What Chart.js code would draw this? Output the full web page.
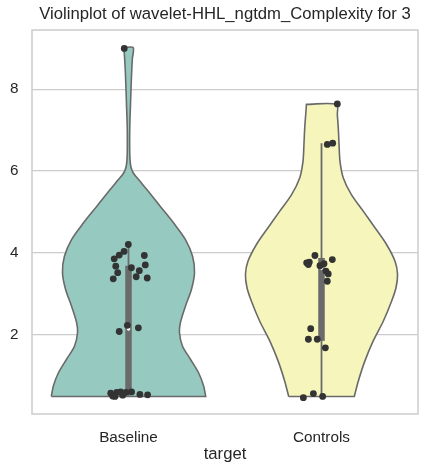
<!DOCTYPE html>
<html>
<head>
<meta charset="utf-8">
<script src="https://cdn.jsdelivr.net/npm/chart.js@4.4.1/dist/chart.umd.min.js"></script>
<style>
  html, body { margin: 0; padding: 0; background: #fff; }
  #wrap { width: 429px; height: 473px; }
</style>
</head>
<body>
<div id="wrap"><canvas id="violin"></canvas></div>
<script>
const categories = ['Baseline', 'Controls'];
const yTicks = [2, 4, 6, 8];

// violin outline: levels on the value axis and half width there (category units)
const baselineLevels = [0.48, 0.74, 1.06, 1.39, 1.71, 2.04, 2.29, 2.69, 3.10, 3.51, 3.91, 4.32, 4.73, 5.13, 5.54, 5.79, 5.95, 6.11, 6.35, 6.76, 7.17, 7.58, 8.00, 8.39, 8.75, 9.02];
const baselineWidths = [0.400, 0.389, 0.363, 0.321, 0.280, 0.264, 0.269, 0.295, 0.326, 0.342, 0.332, 0.295, 0.233, 0.165, 0.096, 0.052, 0.025, 0.012, 0.007, 0.006, 0.007, 0.010, 0.013, 0.016, 0.020, 0.024];
const controlsLevels = [0.48, 0.86, 1.35, 1.84, 2.32, 2.81, 3.14, 3.47, 3.79, 4.20, 4.61, 5.01, 5.42, 5.83, 6.23, 6.64, 7.05, 7.37, 7.63];
const controlsWidths = [0.170, 0.191, 0.225, 0.268, 0.320, 0.363, 0.386, 0.394, 0.381, 0.337, 0.277, 0.217, 0.155, 0.113, 0.096, 0.091, 0.087, 0.082, 0.078];

// inner box: whisker low, q1, median, q3, whisker high
const baselineBox = [0.48, 0.55, 2.13, 3.68, 4.20];
const controlsBox = [0.48, 1.84, 3.62, 3.87, 6.68];

// strip points: values and their jitter off the category centre
const baselineValues = [9.00, 4.20, 4.03, 3.94, 3.85, 3.93, 3.67, 3.70, 3.51, 3.63, 3.56, 3.36, 3.41, 3.38, 2.22, 2.07, 2.16, 0.56, 0.49, 0.58, 0.59, 0.51, 0.58, 0.59, 0.53, 0.52, 0.48];
const baselineJitter = [-0.022, -0.001, -0.023, -0.048, -0.074, 0.082, -0.066, 0.087, -0.056, 0.015, 0.056, -0.079, 0.040, 0.097, -0.006, -0.048, 0.051, -0.092, -0.082, -0.061, -0.041, -0.030, -0.013, 0.016, 0.059, 0.099, -0.070];
const controlsValues = [7.64, 6.65, 6.68, 3.93, 3.75, 3.77, 3.71, 3.68, 3.73, 3.83, 3.55, 3.48, 3.30, 2.14, 1.88, 1.88, 1.67, 0.45, 0.55, 0.48];
const controlsJitter = [0.082, 0.030, 0.058, -0.034, -0.077, -0.063, -0.068, -0.008, 0.013, 0.056, 0.023, 0.035, 0.030, -0.056, -0.068, -0.022, 0.020, -0.094, -0.042, 0.006];

const GRAY = '#6a6a6a';
const TEXT = '#262626';
Chart.defaults.font.family = "'Liberation Sans', Arial, sans-serif";

function violinOutline(pos, levels, widths) {
  const n = levels.length;
  const left = levels.map((v, k) => ({x: pos - widths[k], y: v}));
  const right = levels.map((v, k) => ({x: pos + widths[k], y: v})).reverse();
  // corners repeated so the flat ends stay straight with tension on
  return [...left, left[n - 1], ...right, right[n - 1], left[0]];
}

function violinSets(pos, levels, widths, box, values, jitter, fillColor) {
  return [
    {
      data: violinOutline(pos, levels, widths),
      showLine: true, fill: 'shape', tension: 0.3,
      backgroundColor: fillColor, borderColor: GRAY, borderWidth: 1.6,
      pointRadius: 0, pointHoverRadius: 0, order: 4
    },
    {
      data: [{x: pos, y: box[0]}, {x: pos, y: box[4]}],
      showLine: true, borderColor: GRAY, borderWidth: 1.8,
      pointRadius: 0, pointHoverRadius: 0, order: 3
    },
    {
      data: [{x: pos, y: box[1]}, {x: pos, y: box[3]}],
      showLine: true, borderColor: GRAY, borderWidth: 6.5, borderCapStyle: 'butt',
      pointRadius: 0, pointHoverRadius: 0, order: 2
    },
    {
      data: [{x: pos, y: box[2]}],
      pointRadius: 2.1, pointBackgroundColor: '#ffffff',
      pointBorderColor: GRAY, pointBorderWidth: 0.8, order: 1
    },
    {
      data: values.map((v, k) => ({x: pos + jitter[k], y: v})),
      pointRadius: 3.4, pointBackgroundColor: '#333333',
      pointBorderWidth: 0, order: 0
    }
  ];
}

const frame = {
  id: 'frame',
  afterLayout(chart) {
    // centre the title over the plot area, like matplotlib does
    const t = chart.titleBlock;
    if (t) {
      t.left = chart.chartArea.left;
      t.right = chart.chartArea.right;
    }
  },
  afterDraw(chart) {
    const {ctx, chartArea: a} = chart;
    ctx.save();
    ctx.strokeStyle = '#cccccc';
    ctx.lineWidth = 1.5;
    ctx.strokeRect(a.left, a.top, a.right - a.left, a.bottom - a.top);
    ctx.restore();
  }
};

new Chart(document.getElementById('violin'), {
  type: 'scatter',
  data: {
    datasets: [
      ...violinSets(0, baselineLevels, baselineWidths, baselineBox, baselineValues, baselineJitter, '#96cac1'),
      ...violinSets(1, controlsLevels, controlsWidths, controlsBox, controlsValues, controlsJitter, '#f6f6bc')
    ]
  },
  options: {
    responsive: true,
    maintainAspectRatio: false,
    animation: false,
    layout: { padding: { left: 0, right: 11, top: 0, bottom: 0 } },
    plugins: {
      legend: { display: false },
      tooltip: { enabled: false },
      title: {
        display: true,
        text: 'Violinplot of wavelet-HHL_ngtdm_Complexity for 3',
        color: TEXT,
        font: { size: 16.7, weight: 'normal' },
        padding: { top: 4, bottom: 6 }
      }
    },
    scales: {
      x: {
        type: 'linear',
        min: -0.5,
        max: 1.5,
        afterBuildTicks: s => { s.ticks = categories.map((c, i) => ({value: i})); },
        afterFit: s => { s.height = 59; },
        ticks: {
          callback: v => categories[v],
          color: TEXT,
          font: { size: 15.3 },
          padding: 7,
          maxRotation: 0
        },
        grid: { display: false },
        border: { display: false },
        title: {
          display: true,
          text: 'target',
          color: TEXT,
          font: { size: 16.7 },
          padding: { top: 0, bottom: 9 }
        }
      },
      y: {
        type: 'linear',
        min: 0.05,
        max: 9.45,
        afterBuildTicks: s => { s.ticks = yTicks.map(v => ({value: v})); },
        afterFit: s => { s.width = 32; },
        ticks: {
          color: TEXT,
          font: { size: 15.3 },
          padding: 13.5
        },
        grid: { color: '#cccccc', lineWidth: 1.3, drawTicks: false },
        border: { display: false }
      }
    }
  },
  plugins: [frame]
});
</script>
</body>
</html>
